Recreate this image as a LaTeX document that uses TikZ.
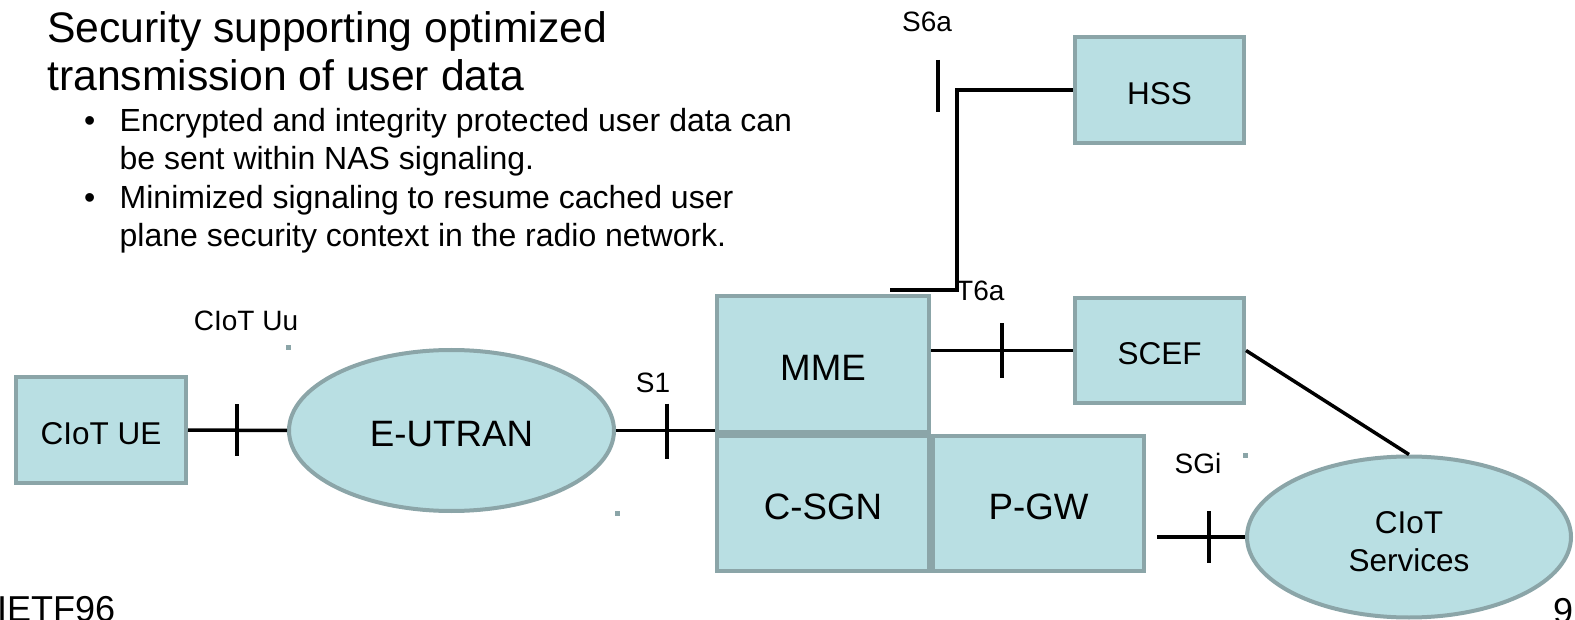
\documentclass[tikz,border=0pt]{standalone}
\usepackage{fontspec}
\setmainfont{Liberation Sans}
\usetikzlibrary{shapes.geometric}
\definecolor{boxfill}{RGB}{185,223,227}
\definecolor{boxline}{RGB}{139,165,168}
\begin{document}
\begin{tikzpicture}[x=1pt,y=-1pt,
  entity/.style={draw=boxline, fill=boxfill, line width=4pt, inner sep=0pt},
  block/.style={entity, rectangle},
  cloud/.style={entity, ellipse},
  big/.style={font=\fontsize{36.7}{40}\selectfont, text height=32.3pt},
  mid/.style={font=\fontsize{31.5}{38}\selectfont, align=center, text height=28.6pt},
  small/.style={font=\fontsize{28}{32}\selectfont, inner sep=0pt},
  headline/.style={anchor=base west, inner sep=0pt, font=\fontsize{42.7}{48}\selectfont},
  bodyline/.style={anchor=base west, inner sep=0pt, font=\fontsize{32}{38}\selectfont},
  footline/.style={anchor=base west, inner sep=0pt, font=\fontsize{36}{40}\selectfont},
  link/.style={line width=3.5pt, black},
  tick/.style={line width=4pt, black},
  anchordot/.style={fill=boxline},
]
\useasboundingbox (0,0) rectangle (1575,620);

% heading and bullet text
\node[headline] (title1) at (47,43) {Security supporting optimized};
\node[headline] (title2) at (47,91) {transmission of user data};
\node[bodyline] (dot1) at (84,132) {\textbullet};
\node[bodyline] (txt1a) at (119.5,132) {Encrypted and integrity protected user data can};
\node[bodyline] (txt1b) at (119.5,170) {be sent within NAS signaling.};
\node[bodyline] (dot2) at (84,209) {\textbullet};
\node[bodyline] (txt2a) at (119.5,209) {Minimized signaling to resume cached user};
\node[bodyline] (txt2b) at (119.5,247) {plane security context in the radio network.};

% network entities
\node[block, minimum width=170pt, minimum height=106pt, mid] (ue) at (101,430) {CIoT UE};
\node[cloud, minimum width=325pt, minimum height=161pt, big] (eutran) at (451.5,430.5) {E-UTRAN};
\node[block, minimum width=212pt, minimum height=136pt, big] (mme) at (823,364) {MME};
\node[block, minimum width=212pt, minimum height=135pt, big] (csgn) at (823,503.5) {C-SGN};
\node[block, minimum width=211pt, minimum height=135pt, big] (pgw) at (1038.5,503.5) {P-GW};
\node[block, minimum width=169pt, minimum height=106pt, mid] (hss) at (1159.5,90) {HSS};
\node[block, minimum width=169pt, minimum height=105pt, mid] (scef) at (1159.5,350.5) {SCEF};
\node[cloud, minimum width=324pt, minimum height=161pt, mid, text height=68.6pt] (svc) at (1409,537) {CIoT\\Services};

% interfaces
\draw[link] (ue.east) -- (eutran.west) coordinate[pos=0.495] (uutick);
\draw[tick] ([yshift=26pt]uutick) -- ([yshift=-26pt]uutick);

\draw[link] (eutran.east) -- (eutran.east -| mme.west) coordinate[pos=0.52] (s1tick);
\draw[tick] ([yshift=27pt]s1tick) -- ([yshift=-28pt]s1tick);

\draw[link] (scef.west -| mme.east) -- (scef.west) coordinate[pos=0.5] (t6atick);
\draw[tick] ([yshift=27pt]t6atick) -- ([yshift=-28pt]t6atick);

\draw[link] (scef.east) -- (svc.north);

\coordinate (sgistart) at (1157,537);
\draw[link] (sgistart) -- (svc.west) coordinate[pos=0.59] (sgitick);
\draw[tick] ([yshift=26pt]sgitick) -- ([yshift=-26pt]sgitick);

\coordinate (t6aend) at (890,290);
\coordinate (s6abend) at (957,90);
\draw[link] (t6aend) -| (s6abend) -- (hss.west);
\coordinate (s6atick) at (938,86);
\draw[tick] ([yshift=26pt]s6atick) -- ([yshift=-26pt]s6atick);

% interface labels
\node[small] (lblS6a) at (927,22) {S6a};
\node[small, anchor=west] (lblT6a) at (956,291) {T6a};
\node[small] (lblUu) at (246,321) {CIoT Uu};
\node[small] (lblS1) at (653,383) {S1};
\node[small] (lblSGi) at (1198,463) {SGi};

% stray connection points
\fill[anchordot] (285.5,345.5) rectangle ++(5,5);
\fill[anchordot] (614.5,510.5) rectangle ++(5,5);
\fill[anchordot] (1242.5,452.5) rectangle ++(5,5);

% footer
\node[footline] (footL) at (-3,621) {IETF96};
\node[footline] (footR) at (1553,623) {9};
\end{tikzpicture}
\end{document}
